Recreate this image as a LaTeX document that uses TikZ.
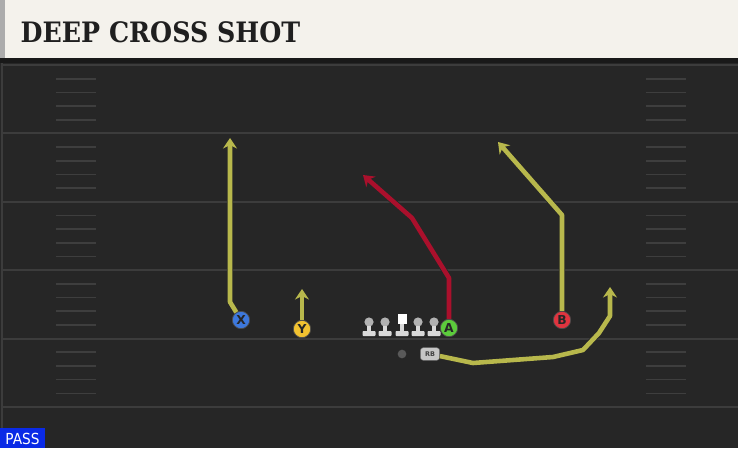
\documentclass[tikz,border=0pt]{standalone}
\usepackage{fontspec}
\setmainfont{DejaVu Sans}
\newfontfamily\titlefont{DejaVu Serif}
\usetikzlibrary{arrows.meta}

\definecolor{fieldgray}{HTML}{262626}
\definecolor{yardgray}{HTML}{3C3C3C}
\definecolor{hashgray}{HTML}{3E3E3E}
\definecolor{bannercream}{HTML}{F4F2EC}
\definecolor{routeyellow}{HTML}{B8B84C}
\definecolor{routered}{HTML}{AA102C}
\definecolor{xblue}{HTML}{3D78DC}
\definecolor{yyellow}{HTML}{F2C230}
\definecolor{agreen}{HTML}{5CCC3C}
\definecolor{bred}{HTML}{E0343F}
\definecolor{passblue}{HTML}{0A2AE6}

\tikzset{
  yardline/.style={draw=yardgray, line width=1.6pt},
  hashmark/.style={draw=hashgray, line width=1.4pt},
  route/.style={line width=3.9pt, line join=round,
    -{Stealth[length=9pt,width=12pt,inset=3pt]},
    preaction={draw=black!85, line width=5.2pt}},
  player/.style={circle, draw=black!70, line width=0.6pt, minimum size=0.52cm,
    inner sep=0pt, text=black!85, font=\bfseries\fontsize{10.5}{10.5}\selectfont},
  lineman/.pic={
    \fill[gray!60] (0,-9) circle (4.6);
    \fill[gray!30] (-2.2,-5) rectangle (2.2,0);
    \fill[gray!30, rounded corners=0.8pt] (-6.5,0) rectangle (6.5,5);
  },
  center/.pic={
    \fill[white] (-4.5,-17) rectangle (4.5,-7);
    \fill[gray!30] (-2.2,-7) rectangle (2.2,0);
    \fill[gray!30, rounded corners=0.8pt] (-6.5,0) rectangle (6.5,5);
  }
}

\begin{document}
\begin{tikzpicture}[x=0.03cm, y=-0.03cm]
	\useasboundingbox (0,0) rectangle (738,448);
	
	% field
	\fill[fieldgray] (0,0) rectangle (738,448);
	\draw[yardgray, line width=1pt] (2,62) -- (2,448);
	\foreach \k in {0,...,5}
		\draw[yardline] (3,65+68.4*\k) -- (738,65+68.4*\k);
	\foreach \k in {0,...,4}
		\foreach \j in {1,...,4} {
			\draw[hashmark] (56,65+68.4*\k+13.68*\j) -- (96,65+68.4*\k+13.68*\j);
			\draw[hashmark] (646,65+68.4*\k+13.68*\j) -- (686,65+68.4*\k+13.68*\j);
		}
	
	% banner
	\fill[black!90] (0,58) rectangle (738,63);
	\fill[bannercream] (5,0) rectangle (738,58);
	\fill[gray!65] (0,0) rectangle (5,58);
	\node[anchor=west, xscale=0.9, text=black!88,
		font=\titlefont\bfseries\fontsize{24}{24}\selectfont] (title) at (17,32) {DEEP CROSS SHOT};
	
	% line
	\foreach \x/\n in {369/lt, 385/lg, 418/rg, 434/rt}
		\pic (\n) at (\x,331) {lineman};
	\pic (c) at (402,331) {center};
	
	% players
	\node[player, fill=xblue] (X) at (241,320) {X};
	\node[player, fill=yyellow] (Y) at (302,329) {Y};
	\node[player, fill=agreen] (A) at (449,328) {A};
	\node[player, fill=bred] (B) at (562,320) {B};
	\node[circle, fill=gray!70!black, minimum size=0.26cm, inner sep=0pt] (QB) at (402,354) {};
	\node[rounded corners=2.5pt, fill=gray!45, draw=black!60, line width=0.4pt,
		minimum width=0.58cm, minimum height=0.38cm, inner sep=0pt,
		font=\bfseries\fontsize{5.5}{5.5}\selectfont, text=black!75] (RB) at (430,354) {RB};
	
	% route ends
	\coordinate (xTip) at (230,138);
	\coordinate (yTip) at (302,289);
	\coordinate (aTip) at (363,175);
	\coordinate (bTip) at (498,142);
	\coordinate (rbTip) at (610,287);
	
	% routes
	\draw[route, routeyellow] (X) -- (230,302) -- (xTip);
	\draw[route, routeyellow] (Y) -- (yTip);
	\draw[route, routered] (A) -- (449,278) -- (412,218) -- (aTip);
	\draw[route, routeyellow] (B) -- (562,215) -- (bTip);
	\draw[route, routeyellow] (RB) -- (473,363) -- (553,357) -- (583,350)
		-- (599,333) -- (610,316) -- (rbTip);
	
	% play type
	\fill[passblue] (0,428) rectangle (45,448);
	\node[text=white, font=\fontsize{13}{13}\selectfont, xscale=0.9] (pass) at (22.5,438.5) {PASS};
	
\end{tikzpicture}
\end{document}
